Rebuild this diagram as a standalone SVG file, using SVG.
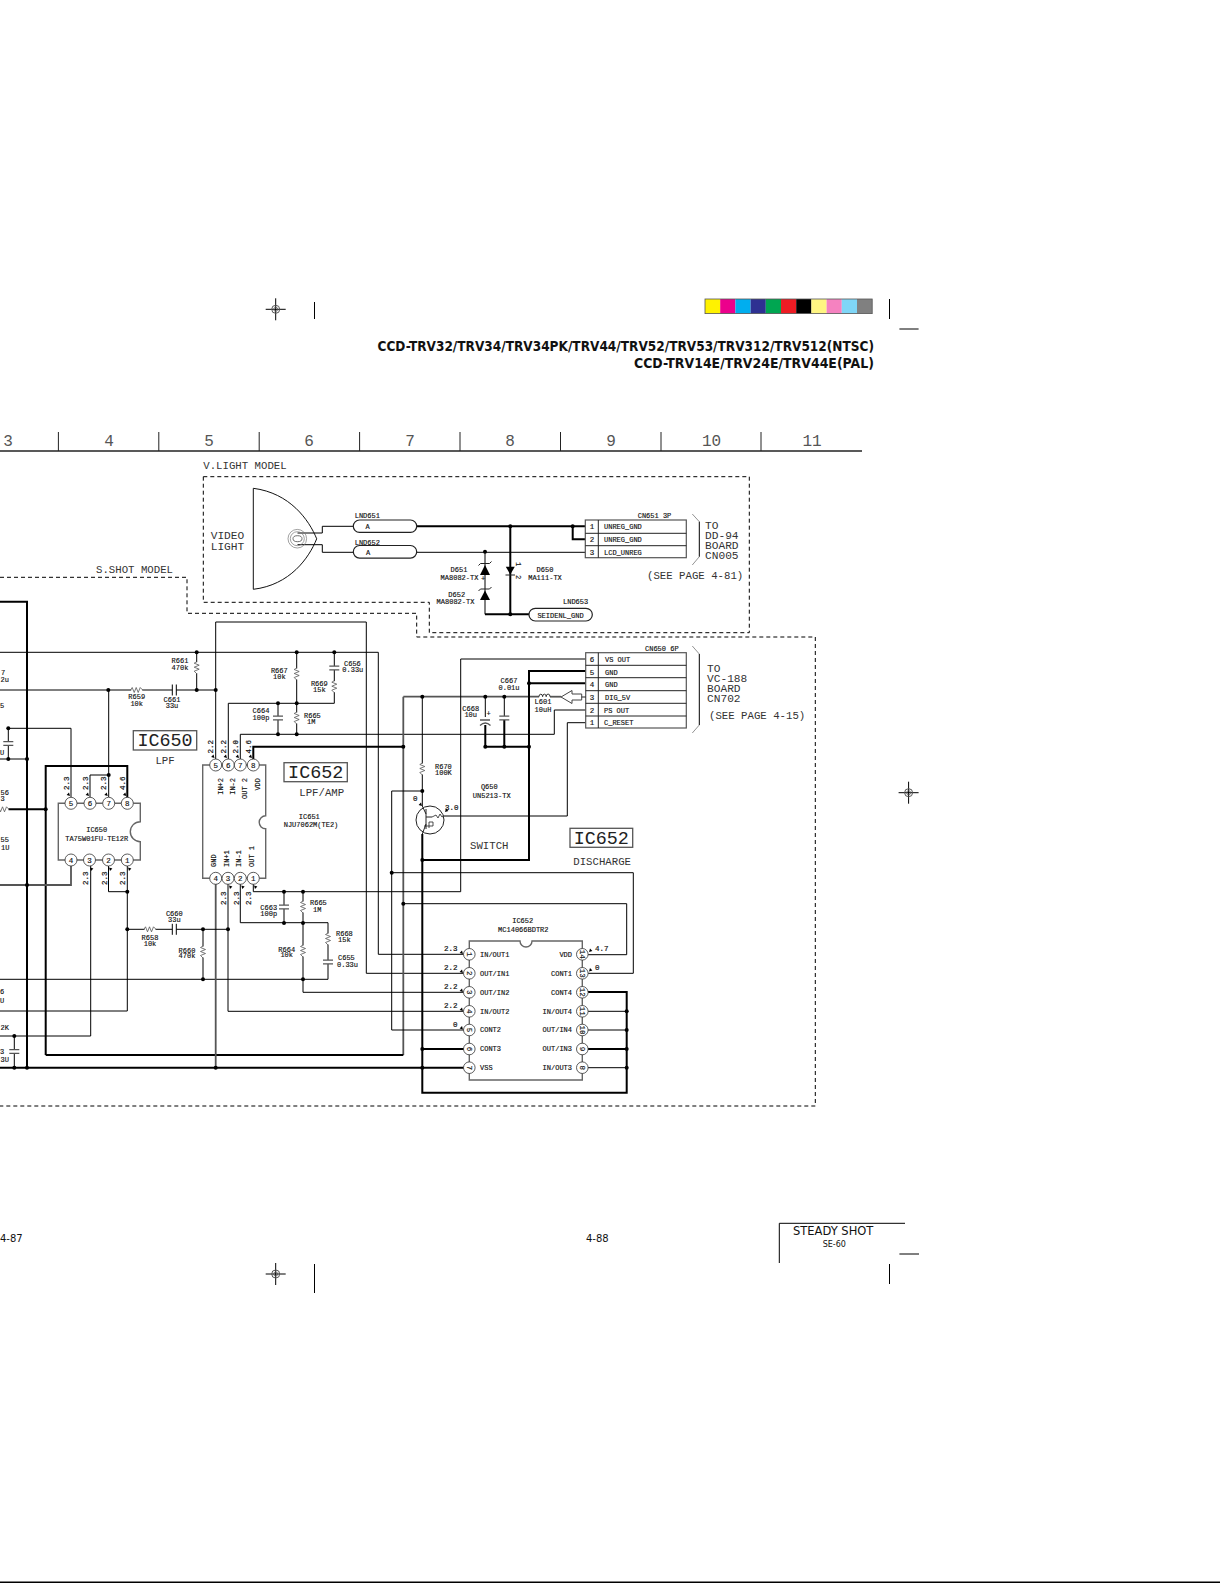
<svg xmlns="http://www.w3.org/2000/svg" xmlns:xlink="http://www.w3.org/1999/xlink" width="1220" height="1583" viewBox="0 0 1220 1583">
<style>
text{font-family:"Liberation Mono","DejaVu Sans Mono",monospace;fill:#111}
.s{font-size:7px;stroke:#111;stroke-width:.15}
.c{font-size:7px;stroke:#111;stroke-width:.15;text-anchor:middle}
.p{font-size:7.5px;stroke:#111;stroke-width:.15;text-anchor:middle}
.m{font-size:10.7px;fill:#333}
.b{font-size:11.2px;fill:#333}
.n{font-size:16px;text-anchor:middle;fill:#555}
.ic{font-size:18.4px;text-anchor:middle;fill:#222}
.v{font-size:7.5px;stroke:#111;stroke-width:.2}
.o{font-family:"DejaVu Sans",sans-serif}
.w1,.w2,.wg,.th,.dash{fill:none;stroke-linejoin:miter}
.w1{stroke:#000;stroke-width:1}
.w2{stroke:#000;stroke-width:2}
.wg{stroke:#555;stroke-width:1.8}
.th{stroke:#777;stroke-width:.8}
.dash{stroke:#000;stroke-width:1;stroke-dasharray:4 3}
.body{fill:none;stroke:#666;stroke-width:1.4}
.pin{fill:#fff;stroke:#333;stroke-width:.8}
.plate{stroke:#555;stroke-width:1.3;fill:none}
.lbl{fill:#fff;stroke:#555;stroke-width:1.3}
.pill{fill:#fff;stroke:#222;stroke-width:1.2}
</style>
<defs>
<circle id="dot" r="2" fill="#000"/>
<g id="rv"><rect x="-3" y="-5.5" width="6" height="11" fill="#fff"/><path d="M0-6 -2.5-4.5 2.5-2.5 -2.5-.5 2.5 1.5 -2.5 3.5 0 6" fill="none" stroke="#555" stroke-width=".8"/></g>
<g id="rh"><rect x="-5.5" y="-3" width="11" height="6" fill="#fff"/><path d="M-6 0 -4.5-2.5 -2.5 2.5 -.5-2.5 1.5 2.5 3.5-2.5 6 0" fill="none" stroke="#555" stroke-width=".8"/></g>
<g id="cv"><rect x="-6" y="-2" width="12" height="4" fill="#fff"/><path class="plate" d="M-5-1.8H5M-5 1.8H5"/></g>
<g id="ch"><rect x="-2" y="-6" width="4" height="12" fill="#fff"/><path d="M-2-5.5V5.5M2-5.5V5.5" fill="none" stroke="#000" stroke-width="1"/></g>
<path id="ar" d="M0 0-3.4-1-1-3.4Z" fill="#000"/>
<g id="reg"><path d="M-10 0H10M0-11V11" stroke="#000" stroke-width="1" fill="none"/><circle r="4" fill="none" stroke="#555" stroke-width="1"/><circle r="2" fill="none" stroke="#555" stroke-width=".8"/></g>
</defs>
<rect width="1220" height="1583" fill="#fff"/>

<g id="page-marks">
<use href="#reg" x="275.7" y="309.3"/>
<use href="#reg" x="275.7" y="1274"/>
<use href="#reg" x="908.6" y="792.7"/>
<path d="M314.5 302V319M889.5 299V319M899.4 329H918.6M314.5 1264V1293M889.5 1264V1284M899.4 1254H919" stroke="#000" fill="none"/>
<rect x="0" y="1581.5" width="1220" height="1.5" fill="#000"/>
</g>
<g id="colour-bar">
<rect x="705" y="299" width="15.2" height="14.6" fill="#fff200"/><rect x="720.2" y="299" width="15.2" height="14.6" fill="#ec008c"/><rect x="735.4" y="299" width="15.2" height="14.6" fill="#00aeef"/><rect x="750.6" y="299" width="15.2" height="14.6" fill="#2e3192"/><rect x="765.8" y="299" width="15.2" height="14.6" fill="#00a651"/><rect x="781" y="299" width="15.2" height="14.6" fill="#ed1c24"/><rect x="796.2" y="299" width="15.2" height="14.6" fill="#000"/><rect x="811.4" y="299" width="15.2" height="14.6" fill="#fff582"/><rect x="826.6" y="299" width="15.2" height="14.6" fill="#f582c0"/><rect x="841.8" y="299" width="15.2" height="14.6" fill="#7fd6f7"/><rect x="857" y="299" width="15.2" height="14.6" fill="#808080"/>
<rect x="705" y="299" width="167.2" height="14.6" fill="none" stroke="#555" stroke-width=".8"/>
</g>
<g id="title">
<text class="o" x="377.5" y="351" font-size="13.5" font-weight="700" textLength="496.5" lengthAdjust="spacingAndGlyphs">CCD-TRV32/TRV34/TRV34PK/TRV44/TRV52/TRV53/TRV312/TRV512(NTSC)</text>
<text class="o" x="634" y="368.3" font-size="13.5" font-weight="700" textLength="240" lengthAdjust="spacingAndGlyphs">CCD-TRV14E/TRV24E/TRV44E(PAL)</text>
</g>
<g id="ruler">
<path d="M0 451H862" stroke="#222" stroke-width="1.6" fill="none"/>
<path d="M58.4 432V451M158.8 432V451M259.2 432V451M359.6 432V451M460 432V451M560.5 432V451M661 432V451M761 432V451" stroke="#222" stroke-width="1" fill="none"/>
<text class="n" x="8" y="446">3</text><text class="n" x="109" y="446">4</text><text class="n" x="209" y="446">5</text><text class="n" x="309" y="446">6</text><text class="n" x="410" y="446">7</text><text class="n" x="510" y="446">8</text><text class="n" x="611" y="446">9</text><text class="n" x="711.6" y="446">10</text><text class="n" x="812" y="446">11</text>
</g>

<g id="boundaries">
<path class="dash" d="M203.3 476.7H749.3V632.7H429.3V602.3H203.3Z"/>
<path class="dash" d="M0 577.3H187V613.3H416.7V637H815.3V1106H0"/>
<text class="m" x="203.3" y="468.7">V.LIGHT MODEL</text>
<text class="m" x="96" y="573">S.SHOT MODEL</text>
</g>

<g id="connectors">
<path class="w1" d="M297.5 533H322.3V526.3H353.3M297.5 544.7H322.3V552.3H353.3"/>
<path class="w2" d="M416.7 526.3H585.3M572.7 526.3V539.3H585.3M510.3 526.3V614.3M485 614.3H529"/>
<path class="w1" d="M416.7 552.3H585.3M485 552.3V614.3"/>
<path class="w2" d="M0 601.7H27V1067.7"/>
<path class="w2" d="M0 1067.7H464"/>
<path class="w1" d="M0 652.3H378.3V954.3H464"/>
<path class="w1" d="M0 690H215.7"/>
<path class="w1" d="M215.7 622V765M215.7 622H366.3V973.3H464"/>
<path class="w1" d="M196.7 652.3V690"/>
<path class="w1" d="M296.7 652.3V734.3M334.3 652.3V703.3H228.3V765"/>
<path class="w1" d="M278 703.3V734.3M240.3 765V734.3H554.3V710H585.7"/>
<path class="w2" d="M253.3 765V746.7H403.3"/>
<path class="wg" d="M403.3 696.7V1055"/>
<path class="wg" d="M403.3 696.7H539"/>
<path class="wg" d="M550 696.7H561"/>
<path class="w2" d="M45.7 1055H403.3M45.7 1055V766H127.3V803"/>
<path class="w2" d="M0 809.3H45.7"/>
<path class="w1" d="M422.3 696.7V806"/>
<path class="w1" d="M422.3 791H391.7V1030H464M391.7 872.7H633.3V973.3H582"/>
<path class="w1" d="M403.3 903.7H626.7V954.7H582"/>
<path class="w2" d="M422.3 834V1092.7H626.7V992H582"/>
<path class="w2" d="M422.3 860H529V671H585.7M529 683.3H585.7M529 671V746.7H485.3V722M504.3 746.7V720"/>
<path class="w1" d="M485.3 696.7V718M504.3 696.7V716"/>
<path class="w1" d="M443 816H567.3V722.7H585.7"/>
<path class="w1" d="M253.3 878V891.7H460.7V659H585.7"/>
<path class="w1" d="M284 891.7V923M303 891.7V992.3H464M240.3 878V922.7H328V979.3H0"/>
<path class="w1" d="M228 878V1011.3H464"/>
<path class="wg" d="M215.7 878V1067.7"/>
<path class="wg" d="M71 866V885H0"/>
<path class="w1" d="M8.3 728.3H71V797M8.3 728.3V759M0 759H27"/>
<path class="w1" d="M108.7 690V797M108.7 775H90V797"/>
<path class="w1" d="M90.7 866V1036H0M14.3 1036V1067.7"/>
<path class="w1" d="M108.5 866V891.7H127.3M127.3 866V1011H0M127.3 929.3H228M203 929.3V980"/>
<path class="w2" d="M422.3 1049H464M582 1049H626.7"/>
<path class="w1" d="M582 1011.3H626.7M582 1030H626.7M582 1067.7H626.7"/>
<g>
<use href="#dot" x="510.3" y="526.3"/><use href="#dot" x="485" y="551.8"/><use href="#dot" x="510.3" y="614.3"/><use href="#dot" x="572.7" y="526.3"/>
<use href="#dot" x="196.7" y="652.3"/><use href="#dot" x="296.7" y="652.3"/><use href="#dot" x="334.3" y="652.3"/><use href="#dot" x="108.3" y="690"/><use href="#dot" x="196.7" y="690"/><use href="#dot" x="215.7" y="690"/>
<use href="#dot" x="278" y="703.3"/><use href="#dot" x="296.7" y="703.3"/><use href="#dot" x="278" y="734.3"/><use href="#dot" x="296.7" y="734.3"/>
<use href="#dot" x="403.3" y="746.7"/><use href="#dot" x="422.3" y="696.7"/><use href="#dot" x="485.3" y="696.7"/><use href="#dot" x="504.3" y="696.7"/>
<use href="#dot" x="485.3" y="746.7"/><use href="#dot" x="504.3" y="746.7"/><use href="#dot" x="529" y="746.7"/><use href="#dot" x="529" y="683.3"/>
<use href="#dot" x="422.3" y="791"/><use href="#dot" x="422.3" y="860"/><use href="#dot" x="391.7" y="872.7"/><use href="#dot" x="403.3" y="903.7"/>
<use href="#dot" x="422.3" y="1049"/><use href="#dot" x="422.3" y="1067.7"/>
<use href="#dot" x="626.7" y="1011.3"/><use href="#dot" x="626.7" y="1030"/><use href="#dot" x="626.7" y="1049"/><use href="#dot" x="626.7" y="1067.7"/>
<use href="#dot" x="8.3" y="728.3"/><use href="#dot" x="8.3" y="759"/><use href="#dot" x="27" y="759"/><use href="#dot" x="108.7" y="775"/><use href="#dot" x="45.7" y="809.3"/>
<use href="#dot" x="27" y="885"/><use href="#dot" x="127.3" y="891.7"/><use href="#dot" x="127.3" y="929.3"/><use href="#dot" x="203" y="929.3"/><use href="#dot" x="228" y="929.3"/><use href="#dot" x="203" y="979.3"/>
<use href="#dot" x="14.3" y="1036"/><use href="#dot" x="14.3" y="1067.7"/><use href="#dot" x="27" y="1067.7"/><use href="#dot" x="215.7" y="1067.7"/>
<use href="#dot" x="284" y="891.7"/><use href="#dot" x="303" y="891.7"/><use href="#dot" x="284" y="923"/><use href="#dot" x="303" y="923"/><use href="#dot" x="303" y="979.3"/>
</g>
</g>

<g id="video-light">
<path d="M253.3 488.3C290 493 309 520 316.7 538.8C309 558 290 585 253.3 589.3Z" fill="none" stroke="#111" stroke-width="1"/>
<circle cx="297.3" cy="538.7" r="9.3" fill="none" stroke="#777" stroke-width=".7"/><circle cx="297.3" cy="538.7" r="7" fill="none" stroke="#777" stroke-width=".7"/><ellipse cx="297.5" cy="538.7" rx="4.5" ry="3" fill="none" stroke="#333" stroke-width=".7"/>
<text class="b" x="210.7" y="539.3">VIDEO</text><text class="b" x="210.7" y="549.7">LIGHT</text>
</g>
<g id="lnd651"><rect class="pill" x="353.3" y="520" width="63.4" height="12.4" rx="6.2"/><text class="c" x="367.7" y="529">A</text><text class="s" x="354.7" y="517.7">LND651</text></g>
<g id="lnd652"><rect class="pill" x="353.3" y="545.5" width="63.4" height="12.6" rx="6.3"/><text class="c" x="368" y="554.5">A</text><text class="s" x="354.7" y="544.5">LND652</text></g>
<g id="lnd653"><rect class="pill" x="529" y="608.3" width="63.3" height="12.7" rx="6.3"/><text class="c" x="560.5" y="617.5">SEIDENL_GND</text><text class="s" x="563" y="604">LND653</text></g>
<g id="d651"><path d="M485 565 490 575H480Z" fill="#000"/><path d="M478.5 565.5 480.5 563.5H489.5L491.5 561.5" fill="none" stroke="#222" stroke-width="1"/><text class="c" x="459" y="571.7">D651</text><text class="c" x="459.5" y="580">MA8082-TX</text><text class="c" x="483" y="581" font-size="6">+</text></g>
<g id="d652"><path d="M485 590.5 490 600H480Z" fill="#000"/><path d="M478.5 591 480.5 589H489.5L491.5 587" fill="none" stroke="#222" stroke-width="1"/><text class="c" x="456.7" y="597">D652</text><text class="c" x="455.5" y="604.3">MA8082-TX</text></g>
<g id="d650"><path d="M505.8 566.7H514.8L510.3 574.5Z" fill="#000"/><path d="M505.5 575H515" fill="none" stroke="#222" stroke-width="1"/><text class="c" transform="translate(516,564) rotate(90)">1</text><text class="c" transform="translate(516,577) rotate(90)">2</text><text class="c" x="545" y="571.7">D650</text><text class="c" x="545" y="580">MA111-TX</text></g>

<g id="cn651">
<rect x="585.3" y="520" width="101" height="37.7" fill="#fff" stroke="#555" stroke-width="1.2"/>
<path d="M598.3 520V557.7M585.3 533.3H686.3M585.3 545.7H686.3" stroke="#222" fill="none"/>
<text class="p" x="592" y="529.3">1</text><text class="p" x="592" y="542">2</text><text class="p" x="592" y="554.5">3</text>
<text class="s" x="604" y="529.3">UNREG_GND</text><text class="s" x="604" y="542">UNREG_GND</text><text class="s" x="604" y="554.5">LCD_UNREG</text>
<text class="s" x="637.7" y="517.7">CN651 3P</text>
<path class="th" d="M692.3 514 699.3 521.7M699.3 556.7 692.3 565"/><path d="M699.3 521.7V556.7" stroke="#000" fill="none"/>
<text class="b" x="705" y="529">TO</text><text class="b" x="705" y="539">DD-94</text><text class="b" x="705" y="549">BOARD</text><text class="b" x="705" y="558.8">CN005</text>
<text class="m" x="647" y="579.3">(SEE PAGE 4-81)</text>
</g>
<g id="cn650">
<rect x="585.7" y="652.7" width="100.6" height="75.3" fill="#fff" stroke="#555" stroke-width="1.2"/>
<path d="M598.3 652.7V728M585.7 665.3H686.3M585.7 677.7H686.3M585.7 690.7H686.3M585.7 703.3H686.3M585.7 716H686.3" stroke="#222" fill="none"/>
<text class="p" x="592" y="662">6</text><text class="p" x="592" y="674.5">5</text><text class="p" x="592" y="687">4</text><text class="p" x="592" y="700">3</text><text class="p" x="592" y="712.5">2</text><text class="p" x="592" y="725">1</text>
<text class="s" x="605" y="662">VS OUT</text><text class="s" x="605" y="674.5">GND</text><text class="s" x="605" y="687">GND</text><text class="s" x="605" y="700">DIG_5V</text><text class="s" x="604" y="712.5">PS OUT</text><text class="s" x="604" y="725">C_RESET</text>
<text class="s" x="645" y="650.5">CN650 6P</text>
<path class="th" d="M692.3 646 699.3 654M699.3 725 692.3 733"/><path d="M699.3 654V725" stroke="#000" fill="none"/>
<text class="b" x="707" y="672">TO</text><text class="b" x="707" y="682">VC-188</text><text class="b" x="707" y="692">BOARD</text><text class="b" x="707" y="702">CN702</text>
<text class="m" x="709" y="718.5">(SEE PAGE 4-15)</text>
<path d="M561 697 572 690.5V694H581.7V700H572V703.5Z" fill="#fff" stroke="#444" stroke-width="1"/><path d="M581.7 697H585.7" stroke="#222"/>
</g>

<g id="ic650">
<path class="body" d="M58.3 803.3H140.3V821.7A10 10 0 0 0 140.3 841.7V860H58.3Z"/>
<circle class="pin" cx="71" cy="803.3" r="6"/><circle class="pin" cx="90" cy="803.3" r="6"/><circle class="pin" cx="108.7" cy="803.3" r="6"/><circle class="pin" cx="127.3" cy="803.3" r="6"/>
<circle class="pin" cx="71" cy="860" r="6"/><circle class="pin" cx="89.5" cy="860" r="6"/><circle class="pin" cx="108.5" cy="860" r="6"/><circle class="pin" cx="127.3" cy="860" r="6"/>
<text class="p" x="71" y="806">5</text><text class="p" x="90" y="806">6</text><text class="p" x="108.7" y="806">7</text><text class="p" x="127.3" y="806">8</text>
<text class="p" x="71" y="862.5">4</text><text class="p" x="89.5" y="862.5">3</text><text class="p" x="108.5" y="862.5">2</text><text class="p" x="127.3" y="862.5">1</text>
<text class="c" x="96.7" y="832.3">IC650</text><text class="c" x="96.7" y="841">TA75W01FU-TE12R</text>
<text class="v" transform="translate(69,790) rotate(-90)">2.3</text><text class="v" transform="translate(87.7,790) rotate(-90)">2.3</text><text class="v" transform="translate(106,790) rotate(-90)">2.3</text><text class="v" transform="translate(125,790) rotate(-90)">4.6</text>
<text class="v" transform="translate(88,885) rotate(-90)">2.3</text><text class="v" transform="translate(106.7,885) rotate(-90)">2.3</text><text class="v" transform="translate(125.3,885) rotate(-90)">2.3</text>
<use href="#ar" transform="translate(70,796)"/><use href="#ar" transform="translate(89,796)"/><use href="#ar" transform="translate(107.7,796)"/><use href="#ar" transform="translate(126.3,796)"/>
<use href="#ar" transform="translate(90,867.5) rotate(180)"/><use href="#ar" transform="translate(109,867.5) rotate(180)"/><use href="#ar" transform="translate(128,867.5) rotate(180)"/>
<rect class="lbl" x="133.3" y="730.7" width="63.4" height="19.3"/><text class="ic" x="165" y="746">IC650</text>
<text class="m" x="165" y="764" text-anchor="middle">LPF</text>
</g>

<g id="ic651">
<path class="body" d="M202.7 765H265.7V815.8A6.5 6.5 0 0 0 265.7 828.8V878.3H202.7Z"/>
<circle class="pin" cx="215.7" cy="765" r="6"/><circle class="pin" cx="228.3" cy="765" r="6"/><circle class="pin" cx="240.3" cy="765" r="6"/><circle class="pin" cx="253.3" cy="765" r="6"/>
<circle class="pin" cx="215.7" cy="878.3" r="6"/><circle class="pin" cx="228" cy="878.3" r="6"/><circle class="pin" cx="240.3" cy="878.3" r="6"/><circle class="pin" cx="253.3" cy="878.3" r="6"/>
<text class="p" x="215.7" y="767.5">5</text><text class="p" x="228.3" y="767.5">6</text><text class="p" x="240.3" y="767.5">7</text><text class="p" x="253.3" y="767.5">8</text>
<text class="p" x="215.7" y="881">4</text><text class="p" x="228" y="881">3</text><text class="p" x="240.3" y="881">2</text><text class="p" x="253.3" y="881">1</text>
<text class="s" text-anchor="end" transform="translate(223,778) rotate(-90)">IN+2</text><text class="s" text-anchor="end" transform="translate(235,778) rotate(-90)">IN-2</text><text class="s" text-anchor="end" transform="translate(247,778) rotate(-90)">OUT 2</text><text class="s" text-anchor="end" transform="translate(260,778) rotate(-90)">VDD</text>
<text class="s" transform="translate(216,867) rotate(-90)">GND</text><text class="s" transform="translate(229,867) rotate(-90)">IN+1</text><text class="s" transform="translate(241,867) rotate(-90)">IN-1</text><text class="s" transform="translate(254,867) rotate(-90)">OUT 1</text>
<text class="c" x="309.3" y="819.3">IC651</text><text class="c" x="311" y="826.7">NJU7062M(TE2)</text>
<text class="v" transform="translate(212.5,753.5) rotate(-90)">2.2</text><text class="v" transform="translate(225.5,753.5) rotate(-90)">2.2</text><text class="v" transform="translate(238,753.5) rotate(-90)">2.0</text><text class="v" transform="translate(250.5,753.5) rotate(-90)">4.6</text>
<text class="v" transform="translate(226,905) rotate(-90)">2.3</text><text class="v" transform="translate(238.5,905) rotate(-90)">2.3</text><text class="v" transform="translate(250.5,905) rotate(-90)">2.3</text>
<use href="#ar" transform="translate(214.5,758)"/><use href="#ar" transform="translate(227,758)"/><use href="#ar" transform="translate(239,758)"/><use href="#ar" transform="translate(252,758)"/>
<use href="#ar" transform="translate(229,885.5) rotate(180)"/><use href="#ar" transform="translate(241.3,885.5) rotate(180)"/><use href="#ar" transform="translate(254,885.5) rotate(180)"/>
<rect class="lbl" x="284" y="762.7" width="63.3" height="19"/><text class="ic" x="315.7" y="778.3">IC652</text>
<text class="m" x="299.3" y="795.7">LPF/AMP</text>
</g>

<g id="ic652">
<path class="body" d="M469.3 941H520A6 6 0 0 0 532 941H582.3V1080H469.3Z"/>
<circle class="pin" cx="469.3" cy="954.3" r="5.8"/><circle class="pin" cx="469.3" cy="973.3" r="5.8"/><circle class="pin" cx="469.3" cy="992.3" r="5.8"/><circle class="pin" cx="469.3" cy="1011.3" r="5.8"/><circle class="pin" cx="469.3" cy="1030" r="5.8"/><circle class="pin" cx="469.3" cy="1049" r="5.8"/><circle class="pin" cx="469.3" cy="1067.7" r="5.8"/>
<circle class="pin" cx="582.3" cy="954.3" r="5.8"/><circle class="pin" cx="582.3" cy="973.3" r="5.8"/><circle class="pin" cx="582.3" cy="992.3" r="5.8"/><circle class="pin" cx="582.3" cy="1011.3" r="5.8"/><circle class="pin" cx="582.3" cy="1030" r="5.8"/><circle class="pin" cx="582.3" cy="1049" r="5.8"/><circle class="pin" cx="582.3" cy="1067.7" r="5.8"/>
<text class="p" transform="translate(467,954.3) rotate(90)">1</text><text class="p" transform="translate(467,973.3) rotate(90)">2</text><text class="p" transform="translate(467,992.3) rotate(90)">3</text><text class="p" transform="translate(467,1011.3) rotate(90)">4</text><text class="p" transform="translate(467,1030) rotate(90)">5</text><text class="p" transform="translate(467,1049) rotate(90)">6</text><text class="p" transform="translate(467,1067.7) rotate(90)">7</text>
<text class="p" transform="translate(580,954.3) rotate(90)">14</text><text class="p" transform="translate(580,973.3) rotate(90)">13</text><text class="p" transform="translate(580,992.3) rotate(90)">12</text><text class="p" transform="translate(580,1011.3) rotate(90)">11</text><text class="p" transform="translate(580,1030) rotate(90)">10</text><text class="p" transform="translate(580,1049) rotate(90)">9</text><text class="p" transform="translate(580,1067.7) rotate(90)">8</text>
<text class="s" x="480" y="956.7">IN/OUT1</text><text class="s" x="480" y="975.7">OUT/IN1</text><text class="s" x="480" y="994.7">OUT/IN2</text><text class="s" x="480" y="1013.5">IN/OUT2</text><text class="s" x="480" y="1032.3">CONT2</text><text class="s" x="480" y="1051.3">CONT3</text><text class="s" x="480" y="1070">VSS</text>
<text class="s" text-anchor="end" x="572" y="956.7">VDD</text><text class="s" text-anchor="end" x="572" y="975.7">CONT1</text><text class="s" text-anchor="end" x="572" y="994.7">CONT4</text><text class="s" text-anchor="end" x="572" y="1013.5">IN/OUT4</text><text class="s" text-anchor="end" x="572" y="1032.3">OUT/IN4</text><text class="s" text-anchor="end" x="572" y="1051.3">OUT/IN3</text><text class="s" text-anchor="end" x="572" y="1070">IN/OUT3</text>
<text class="c" x="522.7" y="922.7">IC652</text><text class="c" x="523.3" y="932.3">MC14066BDTR2</text>
<text class="v" x="444" y="951.3">2.3</text><text class="v" x="444" y="970.3">2.2</text><text class="v" x="444" y="989">2.2</text><text class="v" x="444" y="1008">2.2</text><text class="v" x="453" y="1026.5">0</text>
<text class="v" x="595" y="951">4.7</text><text class="v" x="595" y="970">0</text>
<use href="#ar" transform="translate(463,954)"/><use href="#ar" transform="translate(463,973)"/><use href="#ar" transform="translate(463,992)"/><use href="#ar" transform="translate(463,1011)"/><use href="#ar" transform="translate(463,1029.5)"/>
<use href="#ar" transform="translate(589,952) rotate(90)"/><use href="#ar" transform="translate(589,971.5) rotate(90)"/>
<rect class="lbl" x="570" y="828.3" width="62.7" height="19"/><text class="ic" x="601.3" y="844">IC652</text>
<text class="m" x="573.3" y="865">DISCHARGE</text>
</g>

<g id="q650">
<circle cx="430" cy="820" r="14" fill="#fff" stroke="#222" stroke-width="1"/>
<path d="M426 809V829M426 814 422.3 806M426 824 422.3 834M426 817H432" fill="none" stroke="#222" stroke-width="1"/>
<path d="M432 817 436 815 438 818 440 814 442 817 443.5 816" fill="none" stroke="#222" stroke-width=".8"/>
<path d="M429 828V822H433V826H424" fill="none" stroke="#222" stroke-width=".8"/>
<text class="c" x="489.3" y="789">Q650</text><text class="c" x="491.7" y="797.7">UN5213-TX</text>
<text class="v" x="413" y="800.7">0</text><text class="v" x="445" y="810">3.0</text>
<use href="#ar" transform="translate(422,806)"/><use href="#ar" transform="translate(445,812) rotate(90)"/>
<text class="m" x="470" y="849.3">SWITCH</text>
</g>

<g id="passives">
<g id="r661"><use href="#rv" x="196.7" y="667.7"/><text class="c" x="180" y="663.3">R661</text><text class="c" x="180" y="670">470k</text></g>
<g id="r659"><use href="#rh" x="136.7" y="690"/><text class="c" x="136.7" y="699.3">R659</text><text class="c" x="136.7" y="706">10k</text></g>
<g id="c661"><use href="#ch" x="174.3" y="690"/><text class="c" x="172" y="702.3">C661</text><text class="c" x="172" y="708.3">33u</text></g>
<g id="r667"><use href="#rv" x="296.7" y="674"/><text class="c" x="279.3" y="672.7">R667</text><text class="c" x="279.3" y="679">10k</text></g>
<g id="c656"><use href="#cv" x="334.3" y="668"/><text class="s" x="344" y="665.7">C656</text><text class="s" x="342.3" y="672.3">0.33u</text></g>
<g id="r669"><use href="#rv" x="334.3" y="686.7"/><text class="c" x="319.3" y="685.7">R669</text><text class="c" x="319.3" y="692.3">15k</text></g>
<g id="c664"><use href="#cv" x="278" y="718"/><text class="c" x="261" y="713.3">C664</text><text class="c" x="261" y="720">100p</text></g>
<g id="r665a"><use href="#rv" x="296.7" y="718"/><text class="s" x="304" y="717.7">R665</text><text class="s" x="307" y="724.3">1M</text></g>
<g id="r670"><use href="#rv" x="422.3" y="769"/><text class="s" x="435" y="769.3">R670</text><text class="s" x="435" y="775.3">100K</text></g>
<g id="c667"><use href="#cv" x="504.3" y="718"/><text class="c" x="509" y="683.3">C667</text><text class="c" x="509" y="690">0.01u</text></g>
<g id="c668"><rect x="479" y="717" width="13" height="8" fill="#fff"/><path class="plate" d="M480 720H490M480 725.5Q485.3 720.5 490.5 725.5"/><text class="c" x="488.5" y="716">+</text><text class="c" x="470.7" y="710.7">C668</text><text class="c" x="470.7" y="717.3">10u</text></g>
<g id="l601"><path d="M539 696.7A1.8 2.5 0 0 1 542.6 696.7A1.8 2.5 0 0 1 546.2 696.7A1.8 2.5 0 0 1 550 696.7" fill="none" stroke="#333" stroke-width="1"/><text class="c" x="543" y="704.3">L601</text><text class="c" x="543" y="711.7">10uH</text></g>
<g id="r658"><use href="#rh" x="150" y="929.3"/><text class="c" x="150" y="940">R658</text><text class="c" x="150" y="946">10k</text></g>
<g id="c660"><use href="#ch" x="174.3" y="929.3"/><text class="c" x="174.3" y="916">C660</text><text class="c" x="174.3" y="922.3">33u</text></g>
<g id="r660"><use href="#rv" x="203" y="952"/><text class="c" x="187" y="952.7">R660</text><text class="c" x="187" y="958.3">470k</text></g>
<g id="c663"><use href="#cv" x="284" y="907"/><text class="c" x="268.7" y="910">C663</text><text class="c" x="268.7" y="916">100p</text></g>
<g id="r665b"><use href="#rv" x="303" y="907"/><text class="s" x="310" y="905">R665</text><text class="s" x="313" y="912">1M</text></g>
<g id="r664"><use href="#rv" x="303" y="951"/><text class="c" x="286.7" y="951.7">R664</text><text class="c" x="286.7" y="957.3">10k</text></g>
<g id="r668"><use href="#rv" x="328" y="939"/><text class="s" x="336" y="936">R668</text><text class="s" x="338" y="942">15k</text></g>
<g id="c655"><use href="#cv" x="328" y="962"/><text class="s" x="338" y="960">C655</text><text class="s" x="337" y="967">0.33u</text></g>
<g id="c-left1"><use href="#cv" x="8.3" y="743.5"/></g>
<g id="c-left2"><use href="#cv" x="14.3" y="1051.5"/></g>
<g id="r-left"><use href="#rh" x="3" y="809.3"/></g>
</g>

<g id="edge-labels">
<text class="s" x="1" y="675">7</text><text class="s" x="0.5" y="681.7">2u</text><text class="s" x="0" y="707.7">5</text><text class="s" x="0" y="755">U</text>
<text class="s" x="0.5" y="795">56</text><text class="s" x="0.5" y="801">3</text><text class="s" x="0.5" y="842">55</text><text class="s" x="1" y="850">1U</text>
<text class="s" x="0" y="994">6</text><text class="s" x="0" y="1003">U</text><text class="s" x="0.5" y="1030">2K</text><text class="s" x="0" y="1054">3</text><text class="s" x="0.5" y="1062">3U</text>
</g>

<g id="footer">
<path d="M779.3 1263V1223.3H905" fill="none" stroke="#000" stroke-width="1"/>
<text class="o" x="793" y="1235" font-size="11.5">STEADY SHOT</text>
<text class="o" x="834.3" y="1246.7" font-size="8" text-anchor="middle">SE-60</text>
<text class="o" x="586" y="1242" font-size="10">4-88</text>
<text class="o" x="0" y="1242" font-size="10">4-87</text>
</g>
</svg>
